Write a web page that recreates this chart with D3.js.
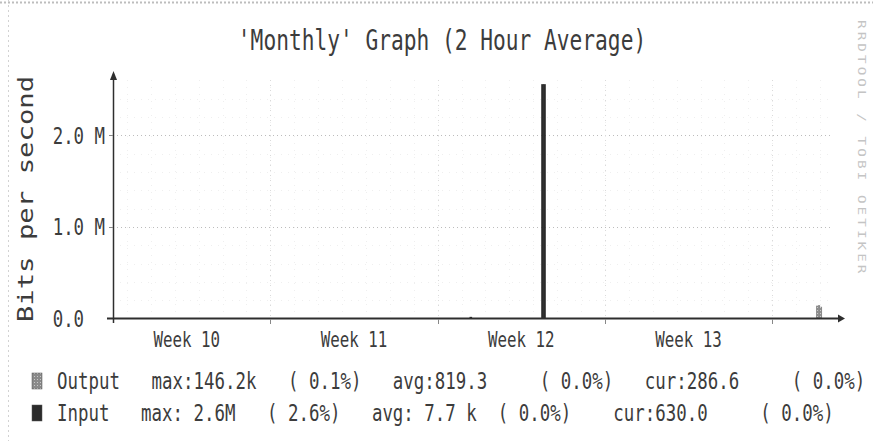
<!DOCTYPE html>
<html>
<head>
<meta charset="utf-8">
<script src="https://cdn.jsdelivr.net/npm/d3@7"></script>
<style>
  body { margin: 0; background: #fff; }
  svg text { font-family: "DejaVu Sans Mono", monospace; fill: #3c3c3c; white-space: pre; }
</style>
</head>
<body>
<div id="chart"></div>
<script>
// 2 hour samples, everything not listed is zero
const stepHours = 2;
const inputTimes = ["2008-03-18T08:00Z", "2008-03-21T08:00Z", "2008-03-21T10:00Z", "2008-04-01T20:00Z"];
const inputValues = [18e3, 2.56e6, 2.56e6, 630];
const outputTimes = ["2008-04-01T20:00Z", "2008-04-01T22:00Z", "2008-04-02T00:00Z"];
const outputValues = [140e3, 146.2e3, 128e3];

const weekStarts = ["2008-03-03T00:00Z", "2008-03-10T00:00Z", "2008-03-17T00:00Z", "2008-03-24T00:00Z"];
const weekLabels = ["Week 10", "Week 11", "Week 12", "Week 13"];

const yTicks = [0, 1e6, 2e6];
const yTickLabels = ["0.0  ", "1.0 M", "2.0 M"];

const legendNames = ["Output", "Input"];
const legendLines = [
  "Output   max:146.2k   ( 0.1%)   avg:819.3     ( 0.0%)   cur:286.6     ( 0.0%)",
  "Input   max: 2.6M   ( 2.6%)   avg: 7.7 k  ( 0.0%)    cur:630.0     ( 0.0%)"
];

const title = "'Monthly' Graph (2 Hour Average)";
const yTitle = "Bits per second";
const watermark = "RRDTOOL / TOBI OETIKER";

const width = 873, height = 441;
const stretch = 1.3; // the picture is taller than the glyphs
const inputColor = "#2b2b2b", outputColor = "#8a8a8a";

const svg = d3.select("#chart").append("svg")
    .attr("width", width)
    .attr("height", height);

const defs = svg.append("defs");
const pat = defs.append("pattern")
    .attr("id", "stipple")
    .attr("width", 3).attr("height", 3)
    .attr("patternUnits", "userSpaceOnUse");
pat.append("rect").attr("width", 3).attr("height", 3).attr("fill", outputColor);
pat.append("rect").attr("x", 1).attr("y", 1).attr("width", 1).attr("height", 1).attr("fill", "#c8c8c8");

// scanned border
svg.append("line").attr("x1", 0).attr("x2", width).attr("y1", 2.5).attr("y2", 2.5)
    .attr("stroke", "#bdbdbd").attr("stroke-width", 2).attr("stroke-dasharray", "2,2");
svg.append("line").attr("x1", 8.5).attr("x2", 8.5).attr("y1", 0).attr("y2", height)
    .attr("stroke", "#d2d2d2").attr("stroke-dasharray", "2,3");

const start = new Date("2008-03-03T10:00Z");
const end = new Date("2008-04-02T13:00Z");
const x = d3.scaleUtc().domain([start, end]).range([113, 833]);
const y = d3.scaleLinear().domain([0, 2.6e6]).range([318.5, 80.5]);

function stretchedText(g, tx, ty, str, size, anchor) {
  return g.append("text")
      .attr("transform", `translate(${tx},${ty}) scale(1,${stretch})`)
      .attr("text-anchor", anchor)
      .attr("font-size", size)
      .text(str);
}

// grid
const grid = svg.append("g");
grid.selectAll(".ymin").data(d3.range(0.2e6, 2.6e6, 0.2e6).filter(v => Math.abs(v % 1e6) > 1))
  .enter().append("line")
    .attr("x1", 113).attr("x2", 833)
    .attr("y1", d => Math.round(y(d)) + 0.5).attr("y2", d => Math.round(y(d)) + 0.5)
    .attr("stroke", "#efefef").attr("stroke-dasharray", "1,6");
grid.selectAll(".xmin").data(d3.utcDay.range(start, end))
  .enter().append("line")
    .attr("x1", d => Math.round(x(d)) + 0.5).attr("x2", d => Math.round(x(d)) + 0.5)
    .attr("y1", 80).attr("y2", 318)
    .attr("stroke", "#efefef").attr("stroke-dasharray", "1,6");
grid.selectAll(".ymaj").data(yTicks.slice(1))
  .enter().append("line")
    .attr("x1", 113).attr("x2", 833)
    .attr("y1", d => Math.round(y(d)) + 0.5).attr("y2", d => Math.round(y(d)) + 0.5)
    .attr("stroke", "#bcbcbc").attr("stroke-dasharray", "1,3");
grid.selectAll(".xmaj").data(d3.utcMonday.range(start, end))
  .enter().append("line")
    .attr("x1", d => Math.round(x(d)) + 0.5).attr("x2", d => Math.round(x(d)) + 0.5)
    .attr("y1", 80).attr("y2", 318)
    .attr("stroke", "#dadada").attr("stroke-dasharray", "1,4");

// data
const inputData = inputTimes.map((t, i) => ({t: new Date(t), v: inputValues[i]}));
const outputData = outputTimes.map((t, i) => ({t: new Date(t), v: outputValues[i]}));
const stepEnd = d => d3.utcHour.offset(d.t, stepHours);

svg.append("g").selectAll("rect").data(outputData).enter().append("rect")
    .attr("x", d => x(d.t))
    .attr("width", d => x(stepEnd(d)) - x(d.t))
    .attr("y", d => y(d.v))
    .attr("height", d => y(0) - y(d.v))
    .attr("fill", "url(#stipple)");

svg.append("g").selectAll("rect").data(inputData).enter().append("rect")
    .attr("x", d => x(d.t))
    .attr("width", d => x(stepEnd(d)) - x(d.t) + 0.6)
    .attr("y", d => y(d.v))
    .attr("height", d => y(0) - y(d.v))
    .attr("fill", inputColor);

// axes
const axes = svg.append("g").attr("stroke", "#2e2e2e").attr("fill", "#2e2e2e");
axes.append("line").attr("x1", 107).attr("x2", 838).attr("y1", y(0)).attr("y2", y(0)).attr("stroke-width", 2);
axes.append("path").attr("d", `M838,${y(0) - 4}L845,${y(0)}L838,${y(0) + 4}Z`).attr("stroke", "none");
axes.append("line").attr("x1", 113.5).attr("x2", 113.5).attr("y1", 323).attr("y2", 78).attr("stroke-width", 1.5);
axes.append("path").attr("d", "M110,80L113.5,71L117,80Z").attr("stroke", "none");
axes.selectAll(".xt").data(d3.utcMonday.range(start, end)).enter().append("line")
    .attr("x1", d => Math.round(x(d)) + 0.5).attr("x2", d => Math.round(x(d)) + 0.5)
    .attr("y1", 319).attr("y2", 324).attr("stroke", "#888");
axes.selectAll(".yt").data(yTicks.slice(1)).enter().append("line")
    .attr("x1", 109).attr("x2", 113)
    .attr("y1", d => Math.round(y(d)) + 0.5).attr("y2", d => Math.round(y(d)) + 0.5)
    .attr("stroke", "#888");

// labels
const labels = svg.append("g");
yTicks.forEach((v, i) => stretchedText(labels, 105, y(v) + 8.5, yTickLabels[i], 17.4, "end"));
weekStarts.forEach((w, i) => {
  const mid = d3.utcHour.offset(new Date(w), 84);
  stretchedText(labels, x(mid), 347, weekLabels[i], 15.8, "middle");
});

stretchedText(labels, 442, 50, title, 21.2, "middle");
labels.append("text")
    .attr("transform", `translate(33,199) scale(1,${stretch}) rotate(-90)`)
    .attr("text-anchor", "middle")
    .attr("font-size", 21)
    .text(yTitle);

labels.append("text")
    .attr("transform", `translate(858,20) scale(1,${stretch}) rotate(90)`)
    .attr("font-size", 11)
    .attr("textLength", 195)
    .style("fill", "#c4c4c4")
    .text(watermark);

// legend
const legend = svg.append("g");
legendNames.forEach((name, i) => {
  const top = 373 + i * 32;
  legend.append("rect")
      .attr("x", 32).attr("y", top)
      .attr("width", 10).attr("height", 16)
      .attr("fill", name === "Output" ? "url(#stipple)" : inputColor)
      .attr("stroke", "#555").attr("stroke-width", 0.5);
  stretchedText(legend, 57, top + 16, legendLines[i], 17.44, "start");
});
</script>
</body>
</html>
